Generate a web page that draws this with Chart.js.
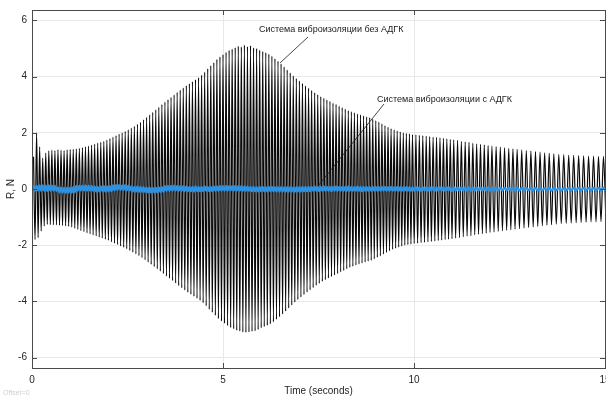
<!DOCTYPE html>
<html>
<head>
<meta charset="utf-8">
<script src="https://cdn.jsdelivr.net/npm/chart.js@4.4.1/dist/chart.umd.min.js"></script>
<style>
  html, body { margin: 0; padding: 0; background: #fff; }
  #wrap { width: 606px; height: 396px; position: relative; }
</style>
</head>
<body>
<div id="wrap"><canvas id="myChart"></canvas></div>
<script>
// time (s) of each positive peak of the black trace
const peakTime = [
  0.04,0.12,0.20,0.28,0.36,0.44,0.52,0.60,0.68,0.76,
  0.84,0.92,1.00,1.08,1.16,1.24,1.32,1.40,1.48,1.56,
  1.64,1.72,1.80,1.88,1.96,2.04,2.12,2.20,2.28,2.36,
  2.44,2.52,2.60,2.68,2.76,2.84,2.92,3.00,3.08,3.16,
  3.24,3.32,3.40,3.48,3.56,3.64,3.72,3.80,3.88,3.96,
  4.04,4.12,4.20,4.28,4.36,4.44,4.52,4.60,4.68,4.76,
  4.84,4.92,5.00,5.08,5.16,5.24,5.32,5.40,5.48,5.56,
  5.64,5.72,5.80,5.88,5.96,6.04,6.12,6.20,6.28,6.36,
  6.44,6.52,6.60,6.68,6.76,6.84,6.92,7.00,7.08,7.16,
  7.24,7.32,7.40,7.48,7.56,7.64,7.72,7.80,7.88,7.96,
  8.04,8.12,8.20,8.28,8.36,8.44,8.52,8.60,8.68,8.76,
  8.84,8.92,9.00,9.08,9.16,9.24,9.32,9.40,9.48,9.56,
  9.64,9.72,9.80,9.88,9.96,
  10.05,10.14,10.23,10.32,10.41,10.50,10.59,10.68,10.77,10.86,
  10.95,11.04,11.14,11.24,11.34,11.44,11.54,11.64,11.74,11.84,
  11.94,12.04,12.15,12.26,12.37,12.48,12.59,12.70,12.82,12.94,
  13.06,13.18,13.30,13.42,13.54,13.66,13.79,13.92,14.05,14.18,
  14.31,14.44,14.57,14.70,14.83,14.96
]

// without ADGK: peak value, and the trough that follows it
const peakHigh = [
  1.15,2.00,1.50,1.10,1.28,1.36,1.38,1.37,1.39,1.38,
  1.37,1.39,1.40,1.41,1.43,1.45,1.47,1.50,1.53,1.56,
  1.60,1.63,1.66,1.70,1.74,1.79,1.85,1.90,1.95,2.00,
  2.05,2.11,2.17,2.23,2.30,2.37,2.46,2.55,2.64,2.73,
  2.82,2.91,3.00,3.09,3.18,3.26,3.35,3.44,3.52,3.60,
  3.68,3.75,3.82,3.89,3.96,4.05,4.16,4.28,4.39,4.50,
  4.61,4.70,4.78,4.86,4.93,4.98,5.03,5.08,5.06,5.12,
  5.07,5.10,5.02,5.00,4.94,4.90,4.85,4.80,4.73,4.64,
  4.55,4.45,4.35,4.24,4.13,4.03,3.94,3.85,3.76,3.67,
  3.59,3.51,3.43,3.36,3.29,3.23,3.17,3.12,3.06,3.01,
  2.95,2.90,2.84,2.79,2.75,2.71,2.67,2.64,2.60,2.57,
  2.54,2.49,2.43,2.38,2.32,2.26,2.20,2.15,2.11,2.07,
  2.03,2.00,1.98,1.96,1.94,
  1.93,1.91,1.90,1.88,1.87,1.85,1.84,1.82,1.80,1.79,
  1.77,1.75,1.73,1.70,1.68,1.66,1.63,1.61,1.59,1.57,
  1.55,1.53,1.51,1.49,1.47,1.45,1.43,1.41,1.39,1.37,
  1.35,1.33,1.31,1.29,1.27,1.25,1.23,1.22,1.21,1.20,
  1.19,1.18,1.17,1.17,1.16,1.16
]
const peakLow = [
  -1.80,-1.73,-1.50,-1.32,-1.26,-1.27,-1.28,-1.28,-1.29,-1.30,
  -1.31,-1.33,-1.36,-1.40,-1.44,-1.48,-1.52,-1.56,-1.60,-1.63,
  -1.67,-1.71,-1.75,-1.79,-1.83,-1.88,-1.93,-1.98,-2.03,-2.08,
  -2.13,-2.19,-2.25,-2.31,-2.37,-2.44,-2.52,-2.60,-2.68,-2.76,
  -2.84,-2.92,-3.01,-3.10,-3.18,-3.26,-3.35,-3.44,-3.52,-3.60,
  -3.68,-3.75,-3.82,-3.89,-3.96,-4.05,-4.16,-4.28,-4.39,-4.50,
  -4.61,-4.70,-4.78,-4.86,-4.93,-4.98,-5.03,-5.06,-5.09,-5.10,
  -5.09,-5.07,-5.05,-5.00,-4.94,-4.90,-4.85,-4.80,-4.73,-4.64,
  -4.55,-4.45,-4.35,-4.24,-4.13,-4.03,-3.94,-3.85,-3.76,-3.67,
  -3.59,-3.51,-3.43,-3.36,-3.29,-3.23,-3.17,-3.12,-3.06,-3.01,
  -2.95,-2.90,-2.84,-2.79,-2.75,-2.71,-2.67,-2.64,-2.60,-2.57,
  -2.54,-2.49,-2.43,-2.38,-2.32,-2.26,-2.20,-2.15,-2.11,-2.07,
  -2.03,-2.00,-1.98,-1.96,-1.94,
  -1.93,-1.91,-1.90,-1.88,-1.87,-1.85,-1.84,-1.82,-1.80,-1.79,
  -1.77,-1.75,-1.73,-1.70,-1.68,-1.66,-1.63,-1.61,-1.59,-1.57,
  -1.55,-1.53,-1.51,-1.49,-1.47,-1.45,-1.43,-1.41,-1.39,-1.37,
  -1.35,-1.33,-1.31,-1.29,-1.27,-1.25,-1.23,-1.22,-1.21,-1.20,
  -1.19,-1.18,-1.17,-1.17,-1.16,-1.16
]

// with ADGK (blue): same cycles, much smaller swing
const blueHigh = [
  0.13,0.12,0.13,0.13,0.12,0.13,0.12,0.11,
  0.06,0.05,0.04,0.05,0.05,0.07,
  0.11,0.12,0.12,0.13,0.12,0.11,
  0.09,0.08,0.09,0.10,0.09,0.10,
  0.13,0.14,0.14,0.13,0.14,0.12,
  0.09,0.08,0.09,0.08,0.07,
  0.05,0.05,0.04,0.05,0.06,0.07,
  0.10,0.11,0.11,0.12,0.11,0.10,0.10,
  0.09,0.08,0.08,0.09,0.08,0.08,0.09,0.08,0.08,0.09,0.09,
  0.10,0.10,0.11,0.10,0.10,0.11,0.10,0.10,0.09,0.09,
  0.08,0.08,0.07,0.08,0.08,0.07,0.08,0.08,0.07,0.07,
  0.07,0.06,0.07,0.07,0.06,0.07,0.07,0.08,0.08,0.08,
  0.08,0.09,0.08,0.08,0.09,0.08,0.08,0.08,0.09,0.08,
  0.08,0.08,0.09,0.08,0.08,0.09,0.08,0.08,0.08,0.07,
  0.08,0.08,0.07,0.08,0.08,0.07,0.08,0.07,0.08,0.07,
  0.07,0.08,0.07,0.07,
  0.07,0.07,0.06,0.07,0.07,0.06,0.07,0.06,0.07,0.06,
  0.06,0.07,0.06,0.06,0.06,0.06,0.05,0.06,0.06,0.05,0.06,
  0.05,0.06,0.05,0.05,0.05,0.05,0.06,0.05,0.05,0.05,
  0.05,0.05,0.04,0.05,0.05,0.05,0.04,0.05,0.05,0.05,
  0.05,0.04,0.05,0.05,0.05
]
const blueLow = [
  -0.06,-0.05,-0.06,-0.06,-0.07,-0.06,-0.06,-0.07,
  -0.12,-0.13,-0.14,-0.13,-0.13,-0.11,
  -0.06,-0.05,-0.05,-0.06,-0.06,-0.07,
  -0.09,-0.09,-0.08,-0.09,-0.09,-0.08,
  -0.05,-0.04,-0.04,-0.04,-0.05,-0.06,
  -0.09,-0.09,-0.10,-0.10,-0.11,
  -0.12,-0.13,-0.12,-0.12,-0.11,-0.10,
  -0.07,-0.07,-0.06,-0.06,-0.07,-0.07,-0.08,
  -0.08,-0.08,-0.09,-0.08,-0.08,-0.08,-0.07,-0.08,-0.08,-0.07,-0.07,
  -0.06,-0.06,-0.06,-0.05,-0.06,-0.06,-0.06,-0.07,-0.07,-0.07,
  -0.08,-0.08,-0.09,-0.08,-0.08,-0.09,-0.08,-0.08,-0.09,-0.09,
  -0.09,-0.10,-0.09,-0.09,-0.10,-0.09,-0.09,-0.08,-0.08,-0.08,
  -0.07,-0.07,-0.08,-0.07,-0.07,-0.07,-0.08,-0.07,-0.07,-0.07,
  -0.07,-0.08,-0.07,-0.07,-0.07,-0.07,-0.08,-0.07,-0.07,-0.07,
  -0.07,-0.07,-0.07,-0.06,-0.07,-0.07,-0.07,-0.06,-0.07,-0.07,
  -0.06,-0.07,-0.07,-0.06,
  -0.06,-0.07,-0.06,-0.06,-0.06,-0.07,-0.06,-0.06,-0.06,-0.06,
  -0.07,-0.06,-0.06,-0.06,-0.06,-0.06,-0.06,-0.06,-0.06,-0.06,-0.06,
  -0.06,-0.06,-0.06,-0.05,-0.06,-0.06,-0.06,-0.06,-0.05,-0.06,
  -0.06,-0.06,-0.06,-0.06,-0.05,-0.06,-0.06,-0.06,-0.06,-0.05,
  -0.06,-0.06,-0.06,-0.06,-0.06
]

const xTicks = [0, 5, 10, 15]
const yTicks = [-6, -4, -2, 0, 2, 4, 6]
const noteWithout = 'Система виброизоляции без АДГК'
const noteWith = 'Система виброизоляции с АДГК'
const xTitle = 'Time (seconds)'
const yTitle = 'R, N'

// peak, then trough half way to the next peak
const toPoints = (hi, lo) => {
  let pts = []
  peakTime.forEach((t, i) => {
    let next = i < peakTime.length - 1 ? peakTime[i + 1] : t + (t - peakTime[i - 1])
    pts.push({ x: t, y: hi[i] })
    pts.push({ x: (t + next) / 2, y: lo[i] })
  })
  return pts
}

const FONT = '"Liberation Sans", Arial, sans-serif'
Chart.defaults.font.family = FONT

// matlab style box, inward ticks, notes and axis titles
const decorations = {
  id: 'decorations',
  afterDatasetsDraw(chart) {
    const { ctx, chartArea: a, scales: { x, y } } = chart
    ctx.save()
    ctx.strokeStyle = '#4a4a4a'
    ctx.lineWidth = 1
    ctx.strokeRect(Math.round(a.left) + 0.5, Math.round(a.top) + 0.5,
      Math.round(a.right - a.left), Math.round(a.bottom - a.top))
    ctx.beginPath()
    xTicks.forEach(v => {
      let px = Math.round(x.getPixelForValue(v)) + 0.5
      ctx.moveTo(px, a.bottom); ctx.lineTo(px, a.bottom - 5)
      ctx.moveTo(px, a.top); ctx.lineTo(px, a.top + 5)
    })
    yTicks.forEach(v => {
      let py = Math.round(y.getPixelForValue(v)) + 0.5
      ctx.moveTo(a.left, py); ctx.lineTo(a.left + 5, py)
      ctx.moveTo(a.right, py); ctx.lineTo(a.right - 5, py)
    })
    ctx.stroke()

    // annotation texts with their pointer lines
    ctx.fillStyle = '#1a1a1a'
    ctx.strokeStyle = '#1a1a1a'
    ctx.lineWidth = 0.8
    ctx.font = '9px ' + FONT
    ctx.textBaseline = 'middle'
    ctx.textAlign = 'left'
    ctx.fillText(noteWithout, 259, 30)
    ctx.fillText(noteWith, 377, 100)
    ctx.beginPath()
    ctx.moveTo(308, 37); ctx.lineTo(280, 63)
    ctx.moveTo(384, 104); ctx.lineTo(318, 186)
    ctx.stroke()

    ctx.fillStyle = '#262626'
    ctx.font = '10px ' + FONT
    ctx.textAlign = 'center'
    ctx.fillText(xTitle, (a.left + a.right) / 2, 391)
    ctx.save()
    ctx.translate(11, (a.top + a.bottom) / 2)
    ctx.rotate(-Math.PI / 2)
    ctx.fillText(yTitle, 0, 0)
    ctx.restore()

    ctx.fillStyle = '#cfcfcf'
    ctx.font = '7px ' + FONT
    ctx.textAlign = 'left'
    ctx.fillText('Offset=0', 3, 393)
    ctx.restore()
  }
}

var ctx = document.getElementById('myChart').getContext('2d')
var chart = new Chart(ctx, {
  type: 'line',
  data: {
    datasets: [
      {
        label: noteWith,
        data: toPoints(blueHigh, blueLow),
        borderColor: '#2b93e6',
        borderWidth: 2.2
      },
      {
        label: noteWithout,
        data: toPoints(peakHigh, peakLow),
        borderColor: '#0a0a0a',
        borderWidth: 1.2
      }
    ]
  },
  options: {
    responsive: true,
    maintainAspectRatio: false,
    animation: false,
    layout: { padding: { top: 10, right: 1, bottom: 0, left: 0 } },
    elements: {
      point: { radius: 0 },
      line: { cubicInterpolationMode: 'monotone', fill: false }
    },
    plugins: { legend: { display: false }, tooltip: { enabled: false } },
    scales: {
      x: {
        type: 'linear', min: 0, max: 15,
        afterBuildTicks: s => { s.ticks = xTicks.map(v => ({ value: v })) },
        afterFit: s => { s.height = 28; s.paddingLeft = 0; s.paddingRight = 0 },
        grid: { color: '#e8e8e8', drawTicks: false },
        border: { display: false },
        ticks: { padding: 6, color: '#262626', font: { size: 10 }, maxRotation: 0, autoSkip: false }
      },
      y: {
        type: 'linear', min: -6.37, max: 6.37,
        afterBuildTicks: s => { s.ticks = yTicks.map(v => ({ value: v })) },
        afterFit: s => { s.width = 32; s.paddingTop = 0; s.paddingBottom = 0 },
        grid: { color: '#e8e8e8', drawTicks: false },
        border: { display: false },
        ticks: { padding: 5, color: '#262626', font: { size: 10 } }
      }
    }
  },
  plugins: [decorations]
})
</script>
</body>
</html>
